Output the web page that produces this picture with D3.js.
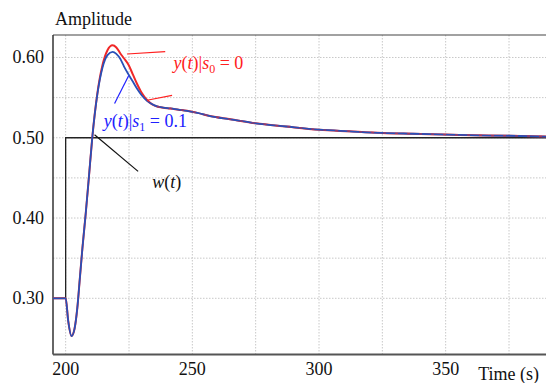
<!DOCTYPE html>
<head>
<meta charset="utf-8">
<title>Step response</title>
<script src="https://d3js.org/d3.v7.min.js"></script>
<style type="text/css">
body { margin: 0; background: #fff; }
</style>
</head>

<body>
<script type="text/javascript">

// data
const times  = [195, 200, 201, 202.3, 203.5, 204.6, 205.6, 206.6, 207.9, 209.2, 210.5, 212.5, 214.5, 216.5, 218.5, 220, 221.6, 223, 224.8, 226.5, 228.2, 230, 232.1, 234, 236.1, 238.5, 241.3, 244.5, 247.9, 252, 257, 265, 275, 287, 300, 312, 325, 337, 350, 362, 375, 390];
const yS1    = [0.300, 0.300, 0.272, 0.253, 0.262, 0.288, 0.325, 0.362, 0.405, 0.452, 0.500, 0.554, 0.587, 0.603, 0.607, 0.6045, 0.598, 0.589, 0.579, 0.570, 0.561, 0.553, 0.546, 0.542, 0.539, 0.5375, 0.5365, 0.535, 0.5335, 0.531, 0.527, 0.523, 0.518, 0.514, 0.510, 0.508, 0.506, 0.505, 0.504, 0.503, 0.5025, 0.5015];
const yS0    = [0.300, 0.300, 0.272, 0.253, 0.262, 0.288, 0.325, 0.362, 0.405, 0.452, 0.500, 0.555, 0.590, 0.609, 0.6152, 0.6125, 0.605, 0.599, 0.591, 0.579, 0.567, 0.556, 0.547, 0.542, 0.539, 0.5375, 0.5365, 0.535, 0.5335, 0.531, 0.527, 0.523, 0.518, 0.514, 0.510, 0.508, 0.506, 0.505, 0.504, 0.503, 0.5025, 0.5015];
const stepT  = [195, 200, 200, 390];
const stepW  = [0.3, 0.3, 0.5, 0.5];

const xGrid  = [200, 225, 250, 275, 300, 325, 350, 375];
const xTicks = [200, 250, 300, 350];
const yGrid  = [0.30, 0.35, 0.40, 0.45, 0.50, 0.55, 0.60];
const yTicks = [0.30, 0.40, 0.50, 0.60];

// annotation leaders, in data units [t1, v1, t2, v2]
const leaders = [
    {c: "#ff2020", p: [224.2, 0.6043, 239.3, 0.6072]},
    {c: "#ff2020", p: [232.1, 0.5467, 242.0, 0.5529]},
    {c: "#2020ff", p: [219.3, 0.5426, 224.9, 0.5775]},
    {c: "#111111", p: [211.4, 0.5037, 228.6, 0.4581]}
];

const svgW = 546, svgH = 383;
const mL = 53, mT = 35, mR = 547, mB = 354.5;

// pick the first serif face that is really installed
function pickSerif() {
    const ctx = document.createElement("canvas").getContext("2d");
    const probe = "Amplitude 0.123 Time (s)";
    const cands = ["Liberation Serif", "DejaVu Serif", "Times New Roman", "Tinos", "Noto Serif", "FreeSerif", "Nimbus Roman", "Times"];
    for (const f of cands) {
        let same = true;
        for (const base of ["monospace", "sans-serif"]) {
            ctx.font = "40px " + base;
            const w0 = ctx.measureText(probe).width;
            ctx.font = "40px '" + f + "', " + base;
            if (ctx.measureText(probe).width !== w0) { same = false; }
            else { same = true; break; }
        }
        if (!same) return "'" + f + "', serif";
    }
    return "serif";
}
const serif = pickSerif();

const x = d3.scaleLinear().domain([195, 390]).range([mL, mR]);
const y = d3.scaleLinear().domain([0.23, 0.628]).range([mB, mT]);

const svg = d3.select("body").append("svg")
    .attr("width", svgW)
    .attr("height", svgH)
    .style("font-family", serif);

svg.append("clipPath").attr("id", "plot")
  .append("rect").attr("x", mL).attr("y", mT).attr("width", mR - mL).attr("height", mB - mT);

// grid
svg.append("g").selectAll("line").data(xGrid).join("line")
    .attr("x1", d => x(d)).attr("x2", d => x(d))
    .attr("y1", mT).attr("y2", mB)
    .attr("stroke", "#c8c8c8").attr("stroke-dasharray", "1.5,1.5");
svg.append("g").selectAll("line").data(yGrid).join("line")
    .attr("x1", mL).attr("x2", mR)
    .attr("y1", d => y(d)).attr("y2", d => y(d))
    .attr("stroke", "#c8c8c8").attr("stroke-dasharray", "1.5,1.5");

// frame
svg.append("line").attr("x1", mL).attr("x2", mR).attr("y1", mT).attr("y2", mT)
    .attr("stroke", "#444").attr("stroke-width", 1.2);
svg.append("line").attr("x1", mL).attr("x2", mL).attr("y1", mT).attr("y2", mB)
    .attr("stroke", "#333").attr("stroke-width", 1.5);
svg.append("line").attr("x1", mL).attr("x2", mR).attr("y1", mB).attr("y2", mB)
    .attr("stroke", "#555").attr("stroke-width", 2);

// tick labels
svg.append("g").selectAll("text").data(yTicks).join("text")
    .attr("x", 44).attr("y", d => y(d) + 6)
    .attr("text-anchor", "end").attr("font-size", 18).attr("fill", "#111")
    .text(d => d.toFixed(2));
svg.append("g").selectAll("text").data(xTicks).join("text")
    .attr("x", d => x(d)).attr("y", 375)
    .attr("text-anchor", "middle").attr("font-size", 18).attr("fill", "#111")
    .text(d => d);

svg.append("text").attr("x", 55).attr("y", 25).attr("font-size", 18).attr("fill", "#111").text("Amplitude");
svg.append("text").attr("x", 539).attr("y", 380).attr("text-anchor", "end").attr("font-size", 18).attr("fill", "#111").text("Time (s)");

const plot = svg.append("g").attr("clip-path", "url(#plot)");

// reference step w(t)
const stepLine = d3.line().x((d, i) => x(stepT[i])).y(d => y(d));
plot.append("path").attr("d", stepLine(stepW))
    .attr("fill", "none").attr("stroke", "#222").attr("stroke-width", 1.3);

// responses
const resp = d3.line().defined(d => d != null).x((d, i) => x(times[i])).y(d => y(d)).curve(d3.curveMonotoneX);
plot.append("path").attr("d", resp(yS0))
    .attr("fill", "none").attr("stroke", "#f02828").attr("stroke-width", 2);
plot.append("path").attr("d", resp(yS1))
    .attr("fill", "none").attr("stroke", "#2850b8").attr("stroke-width", 1.8);
plot.append("path").attr("d", resp(yS0.map((v, i) => times[i] > 232 ? v : null)))
    .attr("fill", "none").attr("stroke", "#f02828").attr("stroke-width", 1.2)
    .attr("stroke-dasharray", "3,9").attr("opacity", 0.6);

// annotations
svg.append("g").selectAll("line").data(leaders).join("line")
    .attr("x1", d => x(d.p[0])).attr("y1", d => y(d.p[1]))
    .attr("x2", d => x(d.p[2])).attr("y2", d => y(d.p[3]))
    .attr("stroke", d => d.c).attr("stroke-width", 1.2);

function label(tx, v, color, parts) {
    const t = svg.append("text").attr("x", x(tx)).attr("y", y(v))
        .attr("font-size", 18).attr("fill", color);
    parts.forEach(p => {
        const s = t.append("tspan").text(p.t);
        if (p.i) s.attr("font-style", "italic");
        if (p.sub) s.attr("font-size", 12).attr("dy", 4);
        if (p.up) s.attr("dy", -4);
    });
}
label(242.6, 0.5857, "#ff2020", [{t: "y", i: 1}, {t: "("}, {t: "t", i: 1}, {t: ")|"}, {t: "s", i: 1}, {t: "0", sub: 1}, {t: " = 0", up: 1}]);
label(215.0, 0.5132, "#2020ff", [{t: "y", i: 1}, {t: "("}, {t: "t", i: 1}, {t: ")|"}, {t: "s", i: 1}, {t: "1", sub: 1}, {t: " = 0.1", up: 1}]);
label(234.2, 0.4377, "#111", [{t: "w", i: 1}, {t: "("}, {t: "t", i: 1}, {t: ")"}]);

</script>
</body>
